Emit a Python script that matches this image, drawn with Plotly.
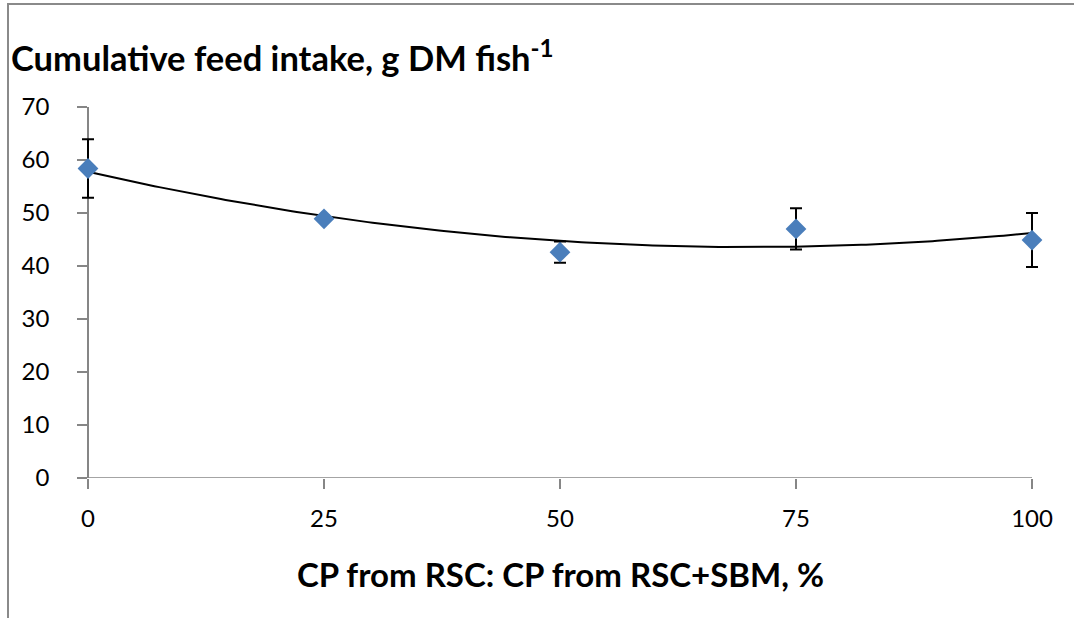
import numpy as np
import plotly.graph_objects as go

# Replacement level of rapeseed-cake protein (% of CP from RSC+SBM)
cp_levels = [0, 25, 50, 75, 100]
# Cumulative feed intake, g DM per fish (mean and SD)
feed_intake = [58.4, 48.9, 42.6, 47.0, 44.9]
feed_sd = [5.5, 0.6, 2.0, 3.9, 5.1]

x_ticks = [0, 25, 50, 75, 100]
y_ticks = [0, 10, 20, 30, 40, 50, 60, 70]

W, H = 1074, 618
# pixel frame of the drawn axes
AX_L, AX_R, AX_T, AX_B = 88, 1032, 107, 478
# extra room on both sides so markers and error bars at the ends stay whole
PAD = 20
L, R, T, B = AX_L - PAD, W - AX_R - PAD, AX_T, H - AX_B
pw, ph = W - L - R, H - T - B
x_per_px = 100 / (AX_R - AX_L)

FONT = "Lato"
AXIS_GREY = "#868686"
DIAMOND = "#4A7EBB"

# second-order polynomial trend through the treatment means
coef = np.polyfit(cp_levels, feed_intake, 2)
trend_x = np.linspace(min(cp_levels), max(cp_levels), 200)
trend_y = np.polyval(coef, trend_x)

fig = go.Figure()
fig.add_trace(go.Scatter(
    x=trend_x, y=trend_y, mode="lines",
    line=dict(color="black", width=2),
    hoverinfo="skip", showlegend=False,
))
fig.add_trace(go.Scatter(
    x=cp_levels, y=feed_intake, mode="markers",
    marker=dict(symbol="diamond", size=16, color=DIAMOND),
    error_y=dict(type="data", array=feed_sd, visible=True,
                 color="black", thickness=2, width=6),
    cliponaxis=False, showlegend=False,
))


def px_x(p):
    return (p - L) / pw


def px_y(p):
    return (H - B - p) / ph


# category axis line, spanning only 0..100
fig.add_shape(type="line", xref="x", yref="y",
              x0=x_ticks[0], y0=0, x1=x_ticks[-1], y1=0,
              line=dict(color=AXIS_GREY, width=1.5), layer="below")

# outer frame: left and top edges only
fig.add_shape(type="line", xref="paper", yref="paper",
              x0=px_x(8), y0=px_y(H + 2), x1=px_x(8), y1=px_y(4),
              line=dict(color="#8A8A8A", width=2))
fig.add_shape(type="line", xref="paper", yref="paper",
              x0=px_x(7), y0=px_y(4), x1=px_x(W + 2), y1=px_y(4),
              line=dict(color="#8A8A8A", width=2))

fig.add_annotation(
    text="Cumulative feed intake, g DM fish<sup>-1</sup>",
    xref="paper", yref="paper", x=px_x(9), y=px_y(55),
    xanchor="left", yanchor="middle", showarrow=False,
    font=dict(family=FONT, size=34.5, color="black", weight="bold"),
)
fig.add_annotation(
    text="CP from RSC: CP from RSC+SBM, %",
    xref="paper", yref="paper", x=px_x(560), y=px_y(574),
    xanchor="center", yanchor="middle", showarrow=False,
    font=dict(family=FONT, size=33, color="black", weight="bold"),
)

fig.update_layout(
    width=W, height=H,
    margin=dict(l=L, r=R, t=T, b=B, autoexpand=False),
    paper_bgcolor="white", plot_bgcolor="white",
    showlegend=False,
    xaxis=dict(
        domain=[0, 1], automargin=False, layer="below traces",
        range=[-PAD * x_per_px, 100 + PAD * x_per_px],
        tickvals=x_ticks, ticktext=[str(v) for v in x_ticks],
        showgrid=False, zeroline=False, showline=False,
        ticks="outside", ticklen=10, tickcolor=AXIS_GREY, tickwidth=1.5,
        ticklabelstandoff=9,
        tickfont=dict(family=FONT, size=24, color="black"),
    ),
    yaxis=dict(
        anchor="free", position=px_x(AX_L), automargin=False,
        layer="below traces",
        range=[0, 70], tickvals=y_ticks, ticktext=[str(v) for v in y_ticks],
        showgrid=False, zeroline=False, showline=True,
        linecolor=AXIS_GREY, linewidth=1.5,
        ticks="outside", ticklen=10, tickcolor=AXIS_GREY, tickwidth=1.5,
        ticklabelstandoff=23,
        tickfont=dict(family=FONT, size=24, color="black"),
    ),
)

fig.write_html("out.html")
